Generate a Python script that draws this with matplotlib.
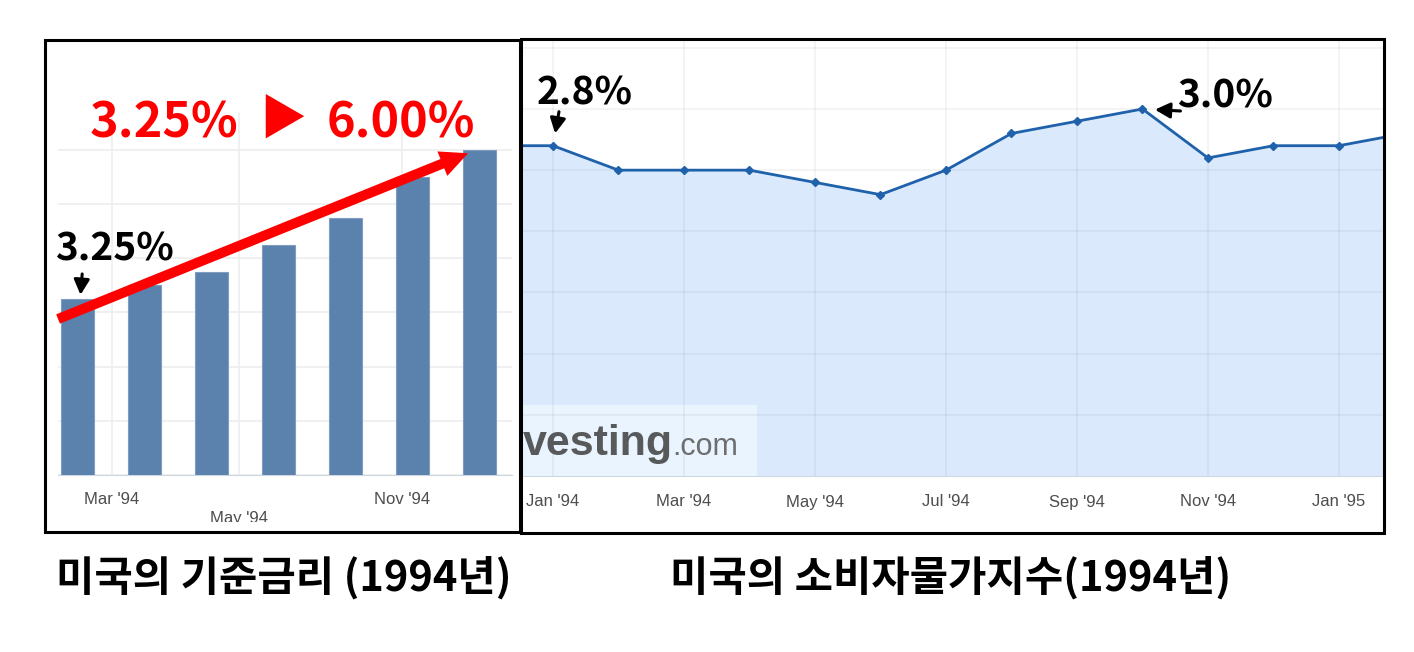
import matplotlib
matplotlib.use('Agg')
import matplotlib.pyplot as plt
from matplotlib.patches import Rectangle
from matplotlib.transforms import Bbox, TransformedBbox, blended_transform_factory, offset_copy

plt.rcParams['font.family'] = ['Noto Sans CJK KR', 'DejaVu Sans']

# ---------------- data ----------------
rate_values = [3.25, 3.5, 3.75, 4.25, 4.75, 5.5, 6.0]
rate_tick_pos = [0.515, 2.41, 4.84]
rate_tick_labels = ["Mar '94", "May '94", "Nov '94"]

cpi_months = [-1, 0, 1, 2, 3, 4, 5, 6, 7, 8, 9, 10, 11, 12, 13]   # Dec '93 .. Feb '95
cpi_values = [2.7, 2.7, 2.5, 2.5, 2.5, 2.4, 2.3, 2.5, 2.8, 2.9, 3.0, 2.6, 2.7, 2.7, 2.8]
cpi_tick_pos = [0, 2, 4, 6, 8, 10, 12]
cpi_tick_labels = ["Jan '94", "Mar '94", "May '94", "Jul '94", "Sep '94", "Nov '94", "Jan '95"]

left_caption = "미국의 기준금리 (1994년)"
right_caption = "미국의 소비자물가지수(1994년)"

W, H = 1414, 652
fig = plt.figure(figsize=(W / 100, H / 100), dpi=100)
fig.patch.set_facecolor('white')


def rect(x0, y0, x1, y1):
    return [x0 / W, 1 - y1 / H, (x1 - x0) / W, (y1 - y0) / H]


TICK_COLOR = '#4d4d4d'
GRID = '#eeeeee'
SMALL_ARROW = dict(arrowstyle='-|>,head_length=0.5,head_width=0.26', color='black',
                   lw=2.2, mutation_scale=18, shrinkA=0)

# ---------------- left panel: policy rate bars ----------------
axl = fig.add_axes(rect(58, 113, 512, 475))
xs = list(range(len(rate_values)))
axl.bar(xs, rate_values, width=0.48, color='#5b81ad', edgecolor='#7f9cc1', linewidth=0.8, zorder=3)
axl.set_xlim(-0.291, 6.485)
axl.set_ylim(0, 6.683)
axl.set_yticks(range(0, 7))
axl.set_xticks(rate_tick_pos)
axl.grid(True, color=GRID, linewidth=1.2, zorder=0)
axl.set_axisbelow(True)
axl.tick_params(length=0, labelbottom=False, labelleft=False)
for s in ['top', 'right', 'left']:
    axl.spines[s].set_visible(False)
axl.spines['bottom'].set_color('#cdd7e2')

clip_left = TransformedBbox(Bbox.from_extents(45 / W, 1 - 522 / H, 520 / W, 1), fig.transFigure)
bt = blended_transform_factory(axl.transData, axl.transAxes)
for i, (p, lab) in enumerate(zip(rate_tick_pos, rate_tick_labels)):
    dy = -43 if i == 1 else -25
    t = axl.text(p, 0, lab, transform=offset_copy(bt, fig=fig, x=0, y=dy, units='dots'),
                 ha='center', va='center', fontsize=12, color=TICK_COLOR,
                 family='Liberation Sans', clip_on=True)
    t.set_clip_box(clip_left)

# red trend arrow
axl.annotate('', xy=(len(rate_values) - 1 - 0.17, rate_values[-1] - 0.06),
             xytext=(-0.29, rate_values[0] - 0.37),
             arrowprops=dict(arrowstyle='simple,head_length=1.0,head_width=0.95,tail_width=0.36',
                             fc='#ff0000', ec='none', mutation_scale=20, shrinkA=0, shrinkB=0),
             zorder=5)
# start label
axl.annotate('', xy=(0.04, rate_values[0]), xytext=(2, 25), textcoords='offset pixels',
             arrowprops=dict(SMALL_ARROW, shrinkB=3), zorder=6)
axl.annotate(f"{rate_values[0]:.2f}%", xy=(0, rate_values[0]), xytext=(37, 38),
             textcoords='offset pixels', ha='center', va='baseline', fontsize=28,
             fontweight='bold', color='black', annotation_clip=False)

# red headline
fig.text(238 / W, 1 - 137 / H, f"{rate_values[0]:.2f}%", color='#ff0000', fontsize=35,
         fontweight='bold', ha='right', va='baseline')
fig.text(283 / W, 1 - 120 / H, "▶", color='#ff0000', fontsize=34, ha='center', va='center')
fig.text(327 / W, 1 - 137 / H, f"{rate_values[-1]:.2f}%", color='#ff0000', fontsize=35,
         fontweight='bold', ha='left', va='baseline')

# ---------------- right panel: CPI area ----------------
axr = fig.add_axes(rect(522, 40, 1383, 476))
axr.fill_between(cpi_months, cpi_values, 0, color='#daeafc', zorder=1, linewidth=0)
axr.add_patch(Rectangle((0, 0), 0.2735, 0.163, transform=axr.transAxes,
                        facecolor='#eaf4fe', edgecolor='none', zorder=1.5))
axr.plot(cpi_months, cpi_values, color='#1f61ab', lw=2.0, marker='D', markersize=4,
         zorder=4)
axr.set_xlim(-0.473, 12.672)
axr.set_ylim(0, 3.564)
axr.set_yticks([0.5, 1.0, 1.5, 2.0, 2.5, 3.0, 3.5])
axr.set_xticks(cpi_tick_pos)
axr.grid(True, color='black', alpha=0.05, linewidth=1.2, zorder=2)
axr.tick_params(length=0, labelbottom=False, labelleft=False)
for s in ['top', 'right', 'left']:
    axr.spines[s].set_visible(False)
axr.spines['bottom'].set_color('#cdd7e2')

btr = blended_transform_factory(axr.transData, axr.transAxes)
for p, lab in zip(cpi_tick_pos, cpi_tick_labels):
    axr.text(p, 0, lab, transform=offset_copy(btr, fig=fig, x=0, y=-26, units='dots'),
             ha='center', va='center', fontsize=12, color=TICK_COLOR,
             family='Liberation Sans', clip_on=False)

# watermark
axr.text(0.001, 0.048, 'vesting', transform=axr.transAxes, fontsize=31, fontweight='bold',
         color='#58595b', family='Liberation Sans', ha='left', va='baseline', zorder=1.6)
axr.text(0.175, 0.048, '.com', transform=axr.transAxes, fontsize=22,
         color='#6d6e70', family='Liberation Sans', ha='left', va='baseline', zorder=1.6)

# annotations
i0 = cpi_months.index(0)
axr.annotate('', xy=(cpi_months[i0], cpi_values[i0]), xytext=(6, 34), textcoords='offset pixels',
             arrowprops=dict(SMALL_ARROW, shrinkB=9), zorder=6)
axr.annotate('2.8%', xy=(cpi_months[i0], cpi_values[i0]), xytext=(32, 41),
             textcoords='offset pixels', ha='center', va='baseline', fontsize=28,
             fontweight='bold', color='black')
ipk = cpi_values.index(max(cpi_values))
axr.annotate('', xy=(cpi_months[ipk], cpi_values[ipk]), xytext=(38, -2), textcoords='offset pixels',
             arrowprops=dict(SMALL_ARROW, shrinkB=9), zorder=6)
axr.annotate(f"{cpi_values[ipk]:.1f}%", xy=(cpi_months[ipk], cpi_values[ipk]), xytext=(83, 1),
             textcoords='offset pixels', ha='center', va='baseline', fontsize=28,
             fontweight='bold', color='black')

# ---------------- panel borders ----------------
fig.add_artist(Rectangle((45 / W, 1 - 532 / H), 475 / W, 492 / H, transform=fig.transFigure,
                         fill=False, lw=2.2, ec='black'))
fig.add_artist(Rectangle((521 / W, 1 - 533 / H), 863 / W, 494 / H, transform=fig.transFigure,
                         fill=False, lw=2.2, ec='black'))

# ---------------- captions ----------------
fig.text(284 / W, 1 - 578 / H, left_caption, fontsize=30, fontweight='black',
         ha='center', va='center')
fig.text(951 / W, 1 - 578 / H, right_caption, fontsize=30, fontweight='black',
         ha='center', va='center')

fig.savefig('out.png', dpi=100)
